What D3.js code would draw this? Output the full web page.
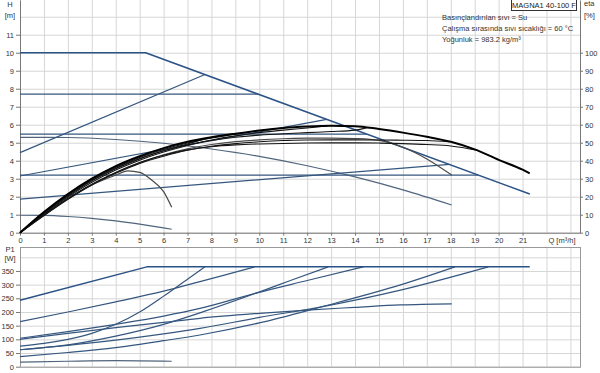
<!DOCTYPE html>
<html>
<head>
<meta charset="utf-8">
<script src="https://cdn.jsdelivr.net/npm/d3@7"></script>
<style>
  body { margin: 0; background: #fff; }
  svg { display: block; font-family: "Liberation Sans", Arial, sans-serif; }
  .tick text { fill: #333; font-size: 7.5px; }
  .tick line { stroke: #777; }
  .domain { stroke: #777; }
</style>
</head>
<body>
<svg width="600" height="373"></svg>
<script>
// ---- data ----
// H-Q curves, [Q m3/h, H m]
const hMax   = [[0,10],[5.25,10],[21.3,2.15]];
const hCP3   = [[0,7.7],[9.95,7.7]];
const hPP3   = [[0,4.45],[7.73,8.79]];
const hCP2   = [[0,5.48],[14.49,5.48]];
const hPP2   = [[0,3.15],[12.82,6.3]];
const hCP1   = [[0,3.2],[19.15,3.2]];
const hPP1   = [[0,1.87],[17.95,3.8]];
const hConst = [[0,5.3],[2,5.29],[4,5.18],[6,4.97],[8,4.65],[10,4.24],[12,3.72],[14,3.1],[16,2.38],[18.04,1.54]];
const hMin   = [[0,0.97],[1,0.96],[2,0.9],[3,0.8],[4,0.66],[5,0.48],[6,0.27],[6.34,0.19]];

// efficiency curves, [Q, eta %]
const etaMax   = [[0,0],[1,11.5],[2,21.5],[3,30],[4,37],[5,42.5],[6,47],[7,50.5],[8,53],[9,55],[10,56.8],[11,58.2],[12,59],[13,59.4],[14,59.2],[15,57.6],[16,55.6],[17,53.3],[18,50.5],[19,46.3],[20,40.5],[21,35],[21.3,33]];
const etaPP3   = [[0,0],[1,10.8],[2,20.5],[3,28.8],[4,35.5],[5,41],[6,45.5],[7,49.3],[7.73,52.3]];
const etaCP3   = [[0,0],[1,11.2],[2,21],[3,29.5],[4,36.3],[5,41.8],[6,46.2],[7,49.8],[8,52.6],[9,54.8],[9.95,56.7]];
const etaPP2   = [[0,0],[1,10.3],[2,19.8],[3,28],[4,34.8],[5,40.3],[6,44.8],[7,48.5],[8,51.5],[9,53.8],[10,55.6],[11,57],[12,58.2],[12.82,59.3]];
const etaCP2   = [[0,0],[1,10.8],[2,20.5],[3,29],[4,35.8],[5,41.2],[6,45.5],[7,48.8],[8,51.2],[9,53],[10,54.2],[11,55],[12,55.6],[13,56.2],[14,57],[14.49,58.4]];
const etaPP1   = [[0,0],[1,9.5],[2,18.5],[3,26.5],[4,33],[5,38.5],[6,42.5],[7,45.8],[8,48],[9,49.5],[10,50.5],[11,51.2],[12,51.5],[13,51.6],[14,51.6],[15,51.5],[16,51.4],[17,51.2],[17.95,50.6]];
const etaCP1   = [[0,0],[1,9.8],[2,19],[3,27],[4,33.5],[5,39],[6,43],[7,46],[8,47.8],[9,48.8],[10,49.3],[11,49.6],[12,49.8],[13,49.9],[14,49.9],[15,49.8],[16,49.5],[17,49],[18,48.2],[19.15,45.7]];
const etaConst = [[0,0],[1,9.6],[2,18.6],[3,26.6],[4,33.3],[5,38.8],[6,43.3],[7,46.6],[8,49],[9,50.6],[10,51.6],[11,52.2],[12,52.5],[13,52.6],[14,52.3],[15,51.3],[16,47.5],[17,41],[18.04,32]];
const etaMin   = [[0,0],[1,10],[2,19],[3,26.5],[4,32],[4.5,34.4],[5,33.5],[5.5,29.3],[6,22.8],[6.34,14.1]];

// power curves, [Q, P1 W]
const pMax   = [[0,243],[5.3,365],[21.3,365]];
const pCP3   = [[0,165],[2,200],[4,237],[6,276],[7.52,311],[8.5,334],[9.8,365]];
const pPP3   = [[0,75],[1,85],[2,100],[3,122],[4,155],[5,200],[6,258],[7,320],[7.73,365]];
const pCP2   = [[0,104],[2,128],[4,155],[6,185],[7.52,213],[9.9,270],[12,315],[14.35,365]];
const pPP2   = [[0,62],[2,80],[4,112],[6,155],[7.52,197],[9.9,270],[11.3,315],[12.88,365]];
const pConst = [[0,100],[2,122],[4,143],[6,162],[7.52,177],[10,195],[12,207],[14,217],[15.9,226],[18.04,230]];
const pCP1   = [[0,62],[2,78],[4,97],[6,120],[7.52,140],[10,180],[12.6,219],[15.9,280],[19.57,365]];
const pPP1   = [[0,37],[2,52],[4,70],[6,95],[7.52,116],[10,160],[12.6,219],[15.9,299],[18.18,365]];
const pMin   = [[0,17],[2,20],[4,22],[6.34,20]];

// ticks and labels
const qTicks   = [0,1,2,3,4,5,6,7,8,9,10,11,12,13,14,15,16,17,18,19,20,21];
const qGrid    = [0,1,2,3,4,5,6,7,8,9,10,11,12,13,14,15,16,17,18,19,20,21,22,23];
const hTicks   = [0,1,2,3,4,5,6,7,8,9,10,11];
const hGrid    = [0,1,2,3,4,5,6,7,8,9,10,11,12];
const etaTicks = [0,10,20,30,40,50,60,70,80,90,100];
const pTicks   = [0,50,100,150,200,250,300,350];
const pGrid    = [0,50,100,150,200,250,300,350,400];
const title    = "MAGNA1 40-100 F";
const infoLines = ["Basınçlandırılan sıvı = Su", "Çalışma sırasında sıvı sıcaklığı = 60 °C", "Yoğunluk = 983.2 kg/m³"];

// ---- rendering ----
const svg = d3.select("svg");
const x = d3.scaleLinear().domain([0, 23.4]).range([20, 580]);
const yH = d3.scaleLinear().domain([0, 12.93]).range([232.7, 0]);
const yEta = d3.scaleLinear().domain([0, 129.3]).range([232.7, 0]);
const yP = d3.scaleLinear().domain([0, 437.6]).range([366.7, 247]);

const gridCol = "#d6d6d6";

// top grid
const gTop = svg.append("g");
gTop.selectAll("line.v").data(qGrid).enter().append("line")
  .attr("x1", d => x(d) + 0.5).attr("x2", d => x(d) + 0.5)
  .attr("y1", 0).attr("y2", yH(0))
  .attr("stroke", gridCol);
gTop.selectAll("line.h").data(hGrid).enter().append("line")
  .attr("x1", x(0)).attr("x2", x.range()[1])
  .attr("y1", d => yH(d) + 0.5).attr("y2", d => yH(d) + 0.5)
  .attr("stroke", gridCol);

// bottom grid + frame
const gBot = svg.append("g");
gBot.selectAll("line.v").data(qGrid).enter().append("line")
  .attr("x1", d => x(d) + 0.5).attr("x2", d => x(d) + 0.5)
  .attr("y1", yP.range()[1]).attr("y2", yP(0))
  .attr("stroke", gridCol);
gBot.selectAll("line.h").data(pGrid).enter().append("line")
  .attr("x1", x(0)).attr("x2", x.range()[1])
  .attr("y1", d => yP(d) + 0.5).attr("y2", d => yP(d) + 0.5)
  .attr("stroke", gridCol);
gBot.append("rect")
  .attr("x", x(0) + 0.5).attr("y", yP.range()[1] + 0.5)
  .attr("width", x.range()[1] - x(0)).attr("height", yP(0) - yP.range()[1])
  .attr("fill", "none").attr("stroke", "#999");

// axes
svg.append("g").attr("transform", `translate(0,${yH(0)})`)
  .call(d3.axisBottom(x).tickValues(qTicks).tickSize(3).tickPadding(1.5).tickSizeOuter(0));
svg.append("g").attr("transform", `translate(${x(0)},0)`)
  .call(d3.axisLeft(yH).tickValues(hTicks).tickSize(4).tickPadding(2).tickSizeOuter(0));
svg.append("g").attr("transform", `translate(${x.range()[1]},0)`)
  .call(d3.axisRight(yEta).tickValues(etaTicks).tickSize(3).tickPadding(2).tickSizeOuter(0));
svg.append("g").attr("transform", `translate(${x(0)},0)`)
  .call(d3.axisLeft(yP).tickValues(pTicks).tickSize(4).tickPadding(2).tickSizeOuter(0))
  .select(".domain").remove();

// axis titles
const lbl = (t, px, py, anchor) => svg.append("text").text(t)
  .attr("x", px).attr("y", py).attr("text-anchor", anchor || "middle")
  .attr("font-size", 7.5).attr("fill", "#333");
lbl("H", 10, 7);
lbl("[m]", 10, 18);
lbl("eta", 584, 6, "start");
lbl("[%]", 584, 18, "start");
lbl("P1", 10, 252);
lbl("[W]", 10, 261);
lbl("Q [m³/h]", 562, 242.5);

// title box
svg.append("rect").attr("x", 511.5).attr("y", -1).attr("width", 65).attr("height", 11.5)
  .attr("fill", "#fff").attr("stroke", "#333");
svg.append("text").text(title).attr("x", 544).attr("y", 7.8)
  .attr("text-anchor", "middle").attr("font-size", 7.5).attr("fill", "#222");

svg.append("g").selectAll("text").data(infoLines).enter().append("text")
  .text(d => d).attr("x", 442).attr("y", (d, i) => 19.5 + i * 11)
  .attr("font-size", 7.5).attr("fill", "#333");

// curves
const blue = "#35577f", grayBlue = "#50657d", black = "#151515", gray = "#4a4a4a";
const lineOf = (ys, curve) => d3.line().x(d => x(d[0])).y(d => ys(d[1])).curve(curve);

const series = [
  { d: hConst, y: yH, c: grayBlue, w: 1.2, k: d3.curveMonotoneX },
  { d: hMin,   y: yH, c: grayBlue, w: 1.2, k: d3.curveMonotoneX },
  { d: hCP3,   y: yH, c: blue, w: 1.3, k: d3.curveLinear },
  { d: hPP3,   y: yH, c: blue, w: 1.2, k: d3.curveLinear },
  { d: hCP2,   y: yH, c: blue, w: 1.3, k: d3.curveLinear },
  { d: hPP2,   y: yH, c: blue, w: 1.2, k: d3.curveLinear },
  { d: hCP1,   y: yH, c: blue, w: 1.3, k: d3.curveLinear },
  { d: hPP1,   y: yH, c: blue, w: 1.2, k: d3.curveLinear },
  { d: hMax,   y: yH, c: "#2b5286", w: 1.6, k: d3.curveLinear },

  { d: etaMin,   y: yEta, c: gray, w: 1.2, k: d3.curveMonotoneX },
  { d: etaConst, y: yEta, c: gray, w: 1.2, k: d3.curveMonotoneX },
  { d: etaCP1,   y: yEta, c: black, w: 1.1, k: d3.curveMonotoneX },
  { d: etaPP1,   y: yEta, c: black, w: 1.1, k: d3.curveMonotoneX },
  { d: etaCP2,   y: yEta, c: black, w: 1.1, k: d3.curveMonotoneX },
  { d: etaPP2,   y: yEta, c: black, w: 1.1, k: d3.curveMonotoneX },
  { d: etaCP3,   y: yEta, c: black, w: 1.1, k: d3.curveMonotoneX },
  { d: etaPP3,   y: yEta, c: black, w: 1.1, k: d3.curveMonotoneX },
  { d: etaMax,   y: yEta, c: "#000", w: 2, k: d3.curveMonotoneX },

  { d: pMin,   y: yP, c: grayBlue, w: 1.2, k: d3.curveMonotoneX },
  { d: pConst, y: yP, c: blue, w: 1.2, k: d3.curveMonotoneX },
  { d: pPP1,   y: yP, c: blue, w: 1.2, k: d3.curveMonotoneX },
  { d: pCP1,   y: yP, c: blue, w: 1.2, k: d3.curveMonotoneX },
  { d: pPP2,   y: yP, c: blue, w: 1.2, k: d3.curveMonotoneX },
  { d: pCP2,   y: yP, c: blue, w: 1.2, k: d3.curveMonotoneX },
  { d: pPP3,   y: yP, c: blue, w: 1.2, k: d3.curveMonotoneX },
  { d: pCP3,   y: yP, c: blue, w: 1.2, k: d3.curveMonotoneX },
  { d: pMax,   y: yP, c: "#2b5286", w: 1.5, k: d3.curveLinear }
];

svg.append("g").selectAll("path").data(series).enter().append("path")
  .attr("d", s => lineOf(s.y, s.k)(s.d))
  .attr("fill", "none")
  .attr("stroke", s => s.c)
  .attr("stroke-width", s => s.w)
  .attr("stroke-linejoin", "round");
</script>
</body>
</html>
